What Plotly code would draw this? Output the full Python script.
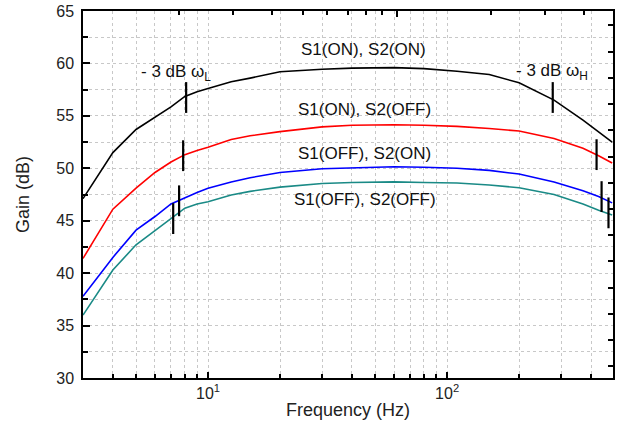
import numpy as np
import plotly.graph_objects as go

# ---- data ----
freq = [3, 4, 5, 6, 7, 8, 9, 10, 12.5, 15, 20, 30, 40, 60, 80, 110, 150, 200, 280, 370, 430, 490]
gain_on_on = [47.1, 51.5, 53.7, 54.85, 55.85, 56.85, 57.3, 57.6, 58.25, 58.6, 59.2, 59.45, 59.55, 59.6, 59.5, 59.25, 58.95, 58.15, 56.5, 54.6, 53.5, 52.5]
gain_on_off = [41.4, 46.1, 48.1, 49.6, 50.6, 51.3, 51.7, 52.0, 52.75, 53.1, 53.5, 53.95, 54.1, 54.15, 54.1, 54.0, 53.8, 53.55, 52.85, 51.9, 51.2, 50.5]
gain_off_on = [37.8, 41.5, 44.1, 45.4, 46.6, 47.2, 47.7, 48.1, 48.7, 49.1, 49.6, 49.95, 50.05, 50.15, 50.1, 50.0, 49.8, 49.45, 48.7, 47.85, 47.3, 46.7]
gain_off_off = [36.0, 40.3, 42.7, 44.05, 45.2, 46.2, 46.6, 46.8, 47.45, 47.8, 48.2, 48.55, 48.65, 48.7, 48.65, 48.6, 48.4, 48.15, 47.5, 46.6, 46.0, 45.55]

series_names = ["S1(ON), S2(ON)", "S1(ON), S2(OFF)", "S1(OFF), S2(ON)", "S1(OFF), S2(OFF)"]
series_colors = ["#000000", "#ff0000", "#0000ff", "#1a8a86"]

# -3 dB cutoff points (frequency, gain)
f_low = [8.1, 7.87, 7.57, 7.15]
g_low = [56.75, 51.2, 46.9, 45.2]
f_high = [276.5, 421.7, 442.6, 473.0]
g_high = [56.75, 51.3, 47.3, 45.75]

y_major = [30, 35, 40, 45, 50, 55, 60, 65]
x_major = [10, 100]
x_major_text = ["10<sup>1</sup>", "10<sup>2</sup>"]
x_minor = [3, 4, 5, 6, 7, 8, 9, 20, 30, 40, 50, 60, 70, 80, 90, 200, 300, 400]
top_major = [100]
top_minor = [20, 30, 40, 50, 60, 70, 80, 90, 200, 300, 400]

FONT = "Liberation Sans, Arial, sans-serif"
GRID = "#c8c8c8"

fig = go.Figure()
for name, g, c in zip(series_names, [gain_on_on, gain_on_off, gain_off_on, gain_off_off], series_colors):
    fig.add_trace(go.Scatter(x=freq, y=g, mode="lines", name=name,
                             line=dict(color=c, width=1.6), showlegend=False))

fig.add_trace(go.Scatter(x=f_low + f_high, y=g_low + g_high, mode="markers",
                         marker=dict(symbol="line-ns", size=22,
                                     line=dict(color="black", width=2.2)),
                         showlegend=False, cliponaxis=False))

# invisible trace to carry the (independent) top/right frame axes
fig.add_trace(go.Scatter(x=[100], y=[50], xaxis="x2", yaxis="y2", mode="markers",
                         marker=dict(opacity=0), hoverinfo="skip", showlegend=False))

font_txt = dict(family=FONT, size=17, color="#111111")
ann = [
    dict(x=np.log10(44.7), y=61.3, text=series_names[0]),
    dict(x=np.log10(45.0), y=55.6, text=series_names[1]),
    dict(x=np.log10(45.0), y=51.45, text=series_names[2]),
    dict(x=np.log10(45.2), y=47.0, text=series_names[3]),
    dict(x=0.865, y=59.1, text="- 3 dB \u03c9<sub>L</sub>"),
    dict(x=2.4375, y=59.2, text="- 3 dB \u03c9<sub>H</sub>"),
]
for a in ann:
    fig.add_annotation(xref="x", yref="y", showarrow=False, font=font_txt,
                       xanchor="center", yanchor="middle", **a)

axis_font = dict(family=FONT, size=16, color="#222222")
title_font = dict(family=FONT, size=18, color="#222222")

fig.update_layout(
    width=618, height=426, margin=dict(l=83, r=5, t=11, b=48, autoexpand=False),
    plot_bgcolor="white", paper_bgcolor="white",
    xaxis=dict(type="log", range=[np.log10(3), np.log10(494)],
               tickvals=x_major, ticktext=x_major_text,
               ticks="inside", ticklen=6, tickwidth=1.5, tickcolor="black",
               showline=True, linecolor="black", linewidth=1.5, mirror=False,
               showgrid=True, gridcolor=GRID, griddash="dot", gridwidth=1,
               minor=dict(tickvals=x_minor, ticks="inside", ticklen=4, tickcolor="black",
                          showgrid=True, gridcolor=GRID, griddash="dot", gridwidth=1),
               tickfont=axis_font, zeroline=False, automargin=False,
               title=dict(text="Frequency (Hz)", font=title_font, standoff=2)),
    yaxis=dict(range=[30, 65], tickvals=y_major,
               ticks="inside", ticklen=7, tickwidth=1.5, tickcolor="black",
               showline=True, linecolor="black", linewidth=1.5, mirror=False,
               showgrid=True, gridcolor=GRID, griddash="dot", gridwidth=1,
               minor=dict(dtick=2.5, ticks="inside", ticklen=5, tickcolor="black",
                          showgrid=True, gridcolor=GRID, griddash="dot", gridwidth=1),
               tickfont=axis_font, zeroline=False, automargin=False, ticklabelstandoff=4,
               title=dict(text="Gain (dB)", font=title_font, standoff=22)),
    xaxis2=dict(type="log", overlaying="x", side="top", anchor="y",
                range=[0.9949, 2.6936], tickvals=top_major,
                ticks="inside", ticklen=6, tickwidth=1.5, tickcolor="black",
                minor=dict(tickvals=top_minor, ticks="inside", ticklen=4, tickcolor="black",
                           showgrid=False),
                showticklabels=False, showgrid=False, zeroline=False,
                showline=True, linecolor="black", linewidth=1.5, automargin=False),
    yaxis2=dict(overlaying="y", side="right", anchor="x",
                range=[31.38, 66.38], dtick=2.5,
                ticks="inside", ticklen=5, tickwidth=1.5, tickcolor="black",
                showticklabels=False, showgrid=False, zeroline=False,
                showline=True, linecolor="black", linewidth=1.5, automargin=False),
)

fig.write_html("out.html", config={"displayModeBar": False},
               post_script="document.body.style.margin='0';")
